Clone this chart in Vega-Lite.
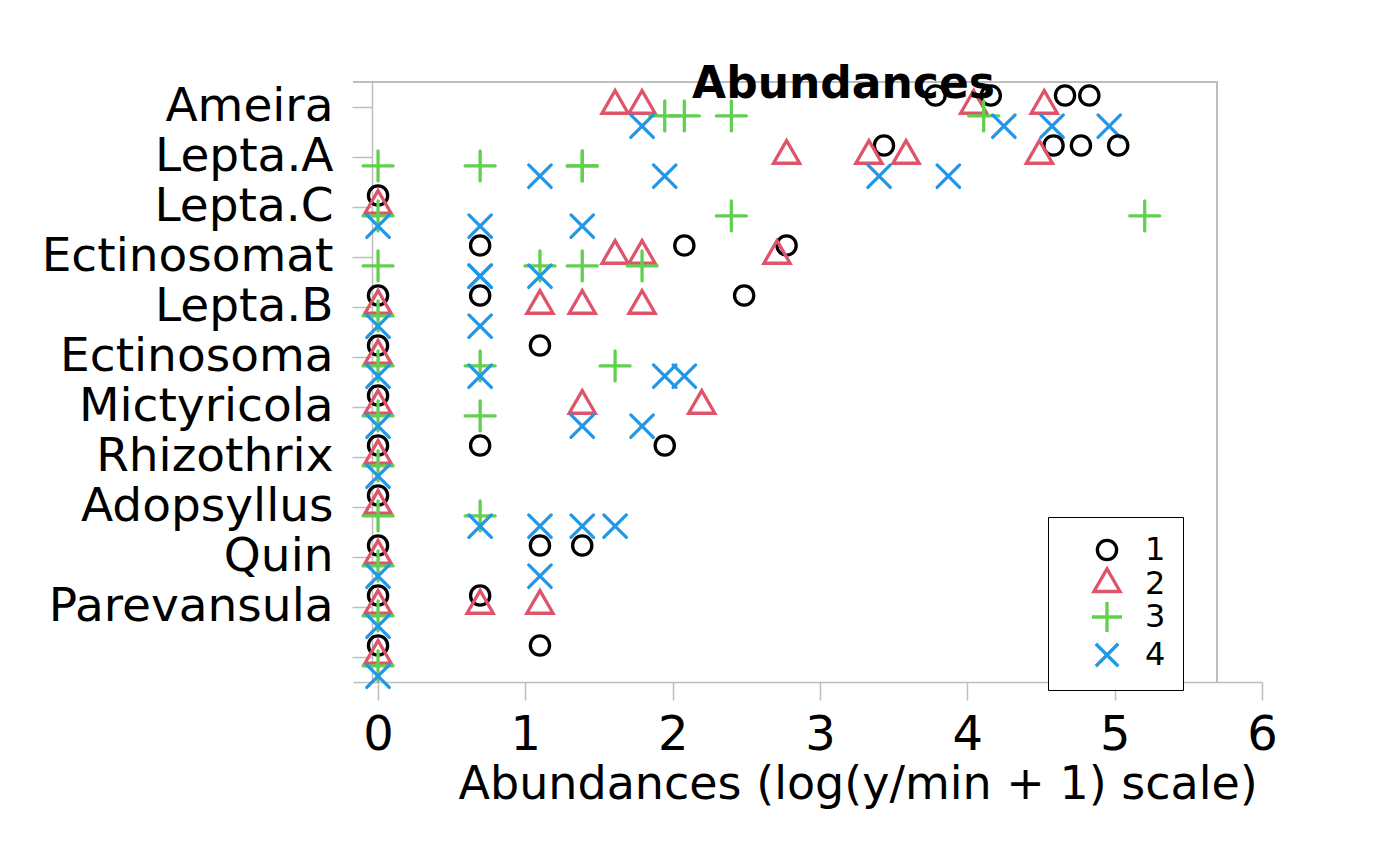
{
  "$schema": "https://vega.github.io/schema/vega-lite/v6.json",
  "width": 909,
  "height": 600,
  "autosize": {"type": "none"},
  "padding": {"left": 353, "top": 82, "right": 138, "bottom": 184},
  "background": "white",
  "config": {
    "view": {"stroke": null},
    "font": "DejaVu Sans",
    "legend": {"labelFont": "DejaVu Sans"}
  },
  "title": {
    "text": "Abundances",
    "font": "DejaVu Sans",
    "fontSize": 44,
    "fontWeight": "bold",
    "color": "black",
    "anchor": "middle",
    "frame": "group",
    "baseline": "alphabetic",
    "dx": 36,
    "dy": 50,
    "offset": -13
  },
  "data": {
    "values": [
      {"taxon": "Ameira", "group": "1", "v": 3.784},
      {"taxon": "Ameira", "group": "1", "v": 4.159},
      {"taxon": "Ameira", "group": "1", "v": 4.663},
      {"taxon": "Ameira", "group": "1", "v": 4.828},
      {"taxon": "Ameira", "group": "2", "v": 1.609},
      {"taxon": "Ameira", "group": "2", "v": 1.792},
      {"taxon": "Ameira", "group": "2", "v": 4.043},
      {"taxon": "Ameira", "group": "2", "v": 4.522},
      {"taxon": "Ameira", "group": "3", "v": 1.946},
      {"taxon": "Ameira", "group": "3", "v": 2.079},
      {"taxon": "Ameira", "group": "3", "v": 2.398},
      {"taxon": "Ameira", "group": "3", "v": 4.111},
      {"taxon": "Ameira", "group": "4", "v": 1.792},
      {"taxon": "Ameira", "group": "4", "v": 4.248},
      {"taxon": "Ameira", "group": "4", "v": 4.575},
      {"taxon": "Ameira", "group": "4", "v": 4.963},
      {"taxon": "Lepta.A", "group": "1", "v": 3.434},
      {"taxon": "Lepta.A", "group": "1", "v": 4.585},
      {"taxon": "Lepta.A", "group": "1", "v": 4.771},
      {"taxon": "Lepta.A", "group": "1", "v": 5.024},
      {"taxon": "Lepta.A", "group": "2", "v": 2.773},
      {"taxon": "Lepta.A", "group": "2", "v": 3.332},
      {"taxon": "Lepta.A", "group": "2", "v": 3.584},
      {"taxon": "Lepta.A", "group": "2", "v": 4.489},
      {"taxon": "Lepta.A", "group": "3", "v": 0},
      {"taxon": "Lepta.A", "group": "3", "v": 0.693},
      {"taxon": "Lepta.A", "group": "3", "v": 1.386},
      {"taxon": "Lepta.A", "group": "3", "v": 1.386},
      {"taxon": "Lepta.A", "group": "4", "v": 1.099},
      {"taxon": "Lepta.A", "group": "4", "v": 1.946},
      {"taxon": "Lepta.A", "group": "4", "v": 3.401},
      {"taxon": "Lepta.A", "group": "4", "v": 3.871},
      {"taxon": "Lepta.C", "group": "1", "v": 0},
      {"taxon": "Lepta.C", "group": "2", "v": 0},
      {"taxon": "Lepta.C", "group": "3", "v": 0},
      {"taxon": "Lepta.C", "group": "3", "v": 2.398},
      {"taxon": "Lepta.C", "group": "3", "v": 5.204},
      {"taxon": "Lepta.C", "group": "4", "v": 0},
      {"taxon": "Lepta.C", "group": "4", "v": 0.693},
      {"taxon": "Lepta.C", "group": "4", "v": 1.386},
      {"taxon": "Ectinosomat", "group": "1", "v": 0.693},
      {"taxon": "Ectinosomat", "group": "1", "v": 2.079},
      {"taxon": "Ectinosomat", "group": "1", "v": 2.773},
      {"taxon": "Ectinosomat", "group": "2", "v": 1.609},
      {"taxon": "Ectinosomat", "group": "2", "v": 1.792},
      {"taxon": "Ectinosomat", "group": "2", "v": 2.708},
      {"taxon": "Ectinosomat", "group": "3", "v": 0},
      {"taxon": "Ectinosomat", "group": "3", "v": 1.099},
      {"taxon": "Ectinosomat", "group": "3", "v": 1.386},
      {"taxon": "Ectinosomat", "group": "3", "v": 1.792},
      {"taxon": "Ectinosomat", "group": "4", "v": 0.693},
      {"taxon": "Ectinosomat", "group": "4", "v": 0.693},
      {"taxon": "Ectinosomat", "group": "4", "v": 1.099},
      {"taxon": "Lepta.B", "group": "1", "v": 0},
      {"taxon": "Lepta.B", "group": "1", "v": 0.693},
      {"taxon": "Lepta.B", "group": "1", "v": 2.485},
      {"taxon": "Lepta.B", "group": "2", "v": 0},
      {"taxon": "Lepta.B", "group": "2", "v": 1.099},
      {"taxon": "Lepta.B", "group": "2", "v": 1.386},
      {"taxon": "Lepta.B", "group": "2", "v": 1.792},
      {"taxon": "Lepta.B", "group": "3", "v": 0},
      {"taxon": "Lepta.B", "group": "4", "v": 0},
      {"taxon": "Lepta.B", "group": "4", "v": 0.693},
      {"taxon": "Ectinosoma", "group": "1", "v": 0},
      {"taxon": "Ectinosoma", "group": "1", "v": 1.099},
      {"taxon": "Ectinosoma", "group": "2", "v": 0},
      {"taxon": "Ectinosoma", "group": "3", "v": 0},
      {"taxon": "Ectinosoma", "group": "3", "v": 0.693},
      {"taxon": "Ectinosoma", "group": "3", "v": 1.609},
      {"taxon": "Ectinosoma", "group": "4", "v": 0},
      {"taxon": "Ectinosoma", "group": "4", "v": 0.693},
      {"taxon": "Ectinosoma", "group": "4", "v": 1.946},
      {"taxon": "Ectinosoma", "group": "4", "v": 2.079},
      {"taxon": "Mictyricola", "group": "1", "v": 0},
      {"taxon": "Mictyricola", "group": "2", "v": 0},
      {"taxon": "Mictyricola", "group": "2", "v": 1.386},
      {"taxon": "Mictyricola", "group": "2", "v": 2.197},
      {"taxon": "Mictyricola", "group": "3", "v": 0},
      {"taxon": "Mictyricola", "group": "3", "v": 0.693},
      {"taxon": "Mictyricola", "group": "4", "v": 0},
      {"taxon": "Mictyricola", "group": "4", "v": 1.386},
      {"taxon": "Mictyricola", "group": "4", "v": 1.792},
      {"taxon": "Rhizothrix", "group": "1", "v": 0},
      {"taxon": "Rhizothrix", "group": "1", "v": 0.693},
      {"taxon": "Rhizothrix", "group": "1", "v": 1.946},
      {"taxon": "Rhizothrix", "group": "2", "v": 0},
      {"taxon": "Rhizothrix", "group": "3", "v": 0},
      {"taxon": "Rhizothrix", "group": "4", "v": 0},
      {"taxon": "Adopsyllus", "group": "1", "v": 0},
      {"taxon": "Adopsyllus", "group": "2", "v": 0},
      {"taxon": "Adopsyllus", "group": "3", "v": 0},
      {"taxon": "Adopsyllus", "group": "3", "v": 0.693},
      {"taxon": "Adopsyllus", "group": "4", "v": 0.693},
      {"taxon": "Adopsyllus", "group": "4", "v": 1.099},
      {"taxon": "Adopsyllus", "group": "4", "v": 1.386},
      {"taxon": "Adopsyllus", "group": "4", "v": 1.609},
      {"taxon": "Quin", "group": "1", "v": 0},
      {"taxon": "Quin", "group": "1", "v": 1.099},
      {"taxon": "Quin", "group": "1", "v": 1.386},
      {"taxon": "Quin", "group": "2", "v": 0},
      {"taxon": "Quin", "group": "3", "v": 0},
      {"taxon": "Quin", "group": "4", "v": 0},
      {"taxon": "Quin", "group": "4", "v": 1.099},
      {"taxon": "Parevansula", "group": "1", "v": 0},
      {"taxon": "Parevansula", "group": "1", "v": 0.693},
      {"taxon": "Parevansula", "group": "2", "v": 0},
      {"taxon": "Parevansula", "group": "2", "v": 0.693},
      {"taxon": "Parevansula", "group": "2", "v": 1.099},
      {"taxon": "Parevansula", "group": "3", "v": 0},
      {"taxon": "Parevansula", "group": "4", "v": 0},
      {"taxon": "", "group": "1", "v": 0},
      {"taxon": "", "group": "1", "v": 1.099},
      {"taxon": "", "group": "2", "v": 0},
      {"taxon": "", "group": "3", "v": 0},
      {"taxon": "", "group": "4", "v": 0}
    ]
  },
  "layer": [
    {
      "mark": {"type": "rule", "color": "#BEBEBE", "strokeWidth": 1.5},
      "encoding": {
        "x": {"datum": -0.17, "type": "quantitative"},
        "x2": {"datum": 5.696},
        "y": {"datum": "Ameira", "type": "nominal", "bandPosition": 0}
      }
    },
    {
      "mark": {"type": "rule", "color": "#BEBEBE", "strokeWidth": 1.5},
      "encoding": {
        "x": {"datum": 5.696, "type": "quantitative"}
      }
    },
    {
      "mark": {"type": "point", "filled": false, "strokeWidth": 3.3, "size": 370, "strokeCap": "round", "opacity": 1},
      "encoding": {
        "x": {
          "field": "v",
          "type": "quantitative",
          "scale": {"domain": [-0.17, 6], "nice": false, "zero": false},
          "axis": {
            "values": [0, 1, 2, 3, 4, 5, 6],
            "format": "d",
            "grid": false,
            "domainColor": "#BEBEBE",
            "domainWidth": 1.5,
            "tickColor": "#BEBEBE",
            "tickWidth": 1.5,
            "tickSize": 18,
            "labelFontSize": 48,
            "labelColor": "black",
            "labelPadding": 11,
            "labelFlush": false,
            "labelOverlap": false,
            "title": "Abundances  (log(y/min + 1) scale)",
            "titleFontSize": 46,
            "titleFontWeight": "normal",
            "titleColor": "black",
            "titleAlign": "left",
            "titleAnchor": null,
            "titleBaseline": "alphabetic",
            "titleX": 105,
            "titleY": 116
          }
        },
        "y": {
          "field": "taxon",
          "type": "nominal",
          "sort": ["Ameira", "Lepta.A", "Lepta.C", "Ectinosomat", "Lepta.B", "Ectinosoma", "Mictyricola", "Rhizothrix", "Adopsyllus", "Quin", "Parevansula", ""],
          "scale": {"paddingInner": 0, "paddingOuter": 0},
          "axis": {
            "title": null,
            "offset": -19,
            "domainColor": "#BEBEBE",
            "domainWidth": 1.5,
            "tickColor": "#BEBEBE",
            "tickWidth": 1.5,
            "tickSize": 20,
            "labelFontSize": 47,
            "labelColor": "black",
            "labelPadding": 19,
            "labelLimit": 400,
            "labelOverlap": false
          }
        },
        "yOffset": {
          "field": "group",
          "type": "nominal",
          "scale": {"domain": ["1", "2", "3", "4"], "range": [13.5, 44.17], "paddingInner": 0, "paddingOuter": 0}
        },
        "color": {
          "field": "group",
          "type": "nominal",
          "scale": {"domain": ["1", "2", "3", "4"], "range": ["#000000", "#DF536B", "#61D04F", "#2297E6"]},
          "legend": {
            "title": null,
            "orient": "none",
            "legendX": 695,
            "legendY": 435,
            "strokeColor": "black",
            "fillColor": "white",
            "padding": 17,
            "symbolOffset": 26,
            "labelOffset": 22,
            "labelFontSize": 32,
            "labelColor": "black",
            "rowPadding": -5,
            "symbolSize": 370,
            "symbolStrokeWidth": 3.3
          }
        },
        "shape": {
          "field": "group",
          "type": "nominal",
          "scale": {
            "domain": ["1", "2", "3", "4"],
            "range": ["circle", "M0,-1.57L1.36,0.78L-1.36,0.78Z", "M-1.56,0L1.56,0M0,-1.56L0,1.56", "M-1.17,-1.17L1.17,1.17M-1.17,1.17L1.17,-1.17"]
          },
          "legend": {
            "title": null,
            "orient": "none",
            "legendX": 695,
            "legendY": 435,
            "strokeColor": "black",
            "fillColor": "white",
            "padding": 17,
            "symbolOffset": 26,
            "labelOffset": 22,
            "labelFontSize": 32,
            "labelColor": "black",
            "rowPadding": -5,
            "symbolSize": 370,
            "symbolStrokeWidth": 3.3
          }
        }
      }
    }
  ]
}
